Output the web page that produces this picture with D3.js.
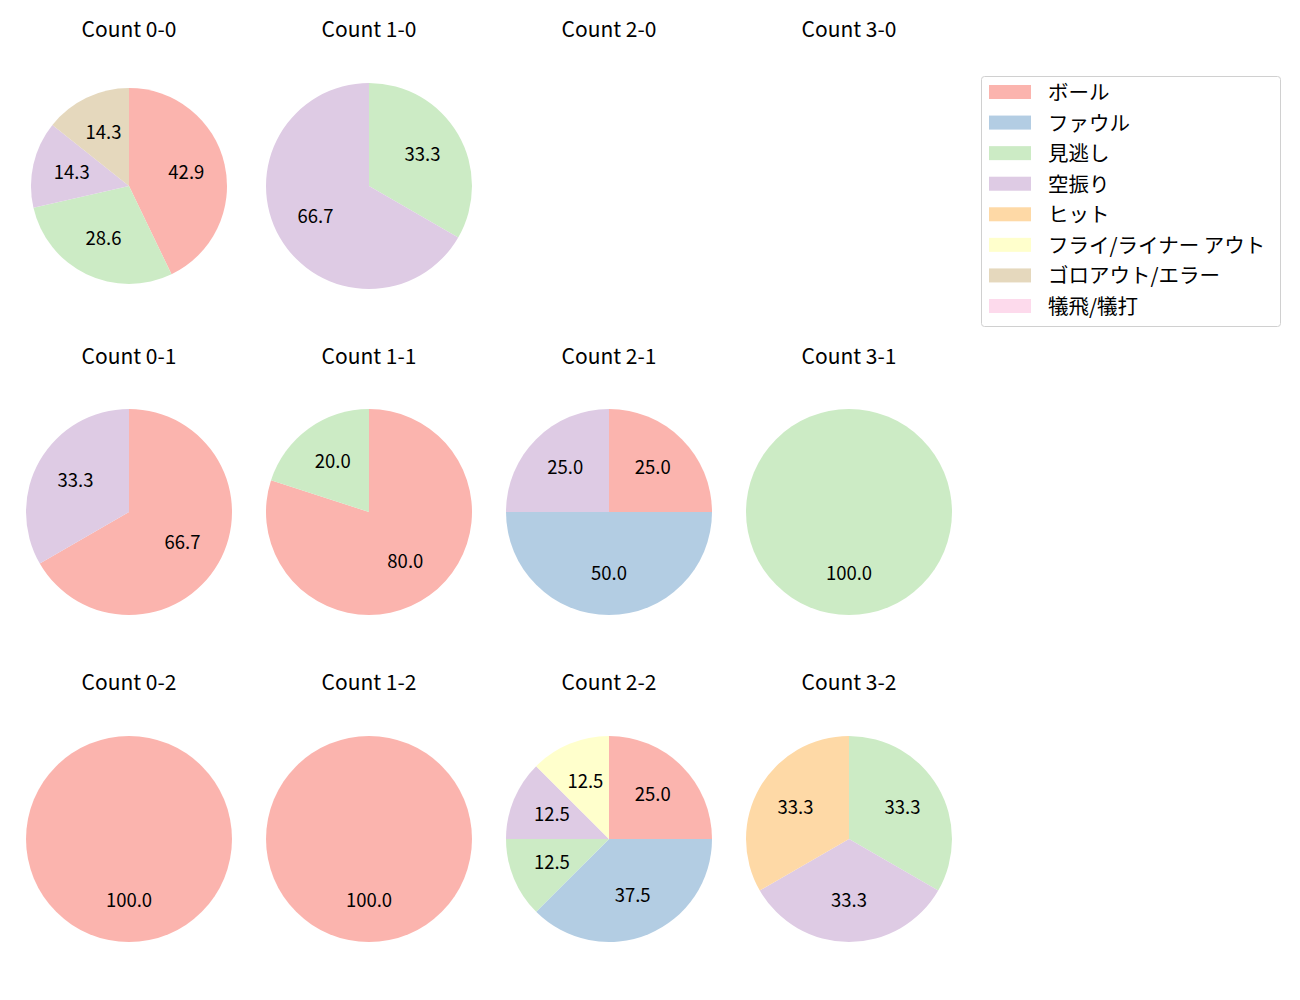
<!DOCTYPE html>
<html><head><meta charset="utf-8">
<script src="https://cdn.jsdelivr.net/npm/d3@7"></script>
<style>body{margin:0;background:#fff;} text{font-family:"Noto Sans CJK JP","Noto Sans",sans-serif;}</style>
</head><body>
<svg id="chart" width="1300" height="1000"></svg>
<script>
const categories = ["ボール","ファウル","見逃し","空振り","ヒット","フライ/ライナー アウト","ゴロアウト/エラー","犠飛/犠打"];
const colors = ["#fbb4ae","#b3cde3","#ccebc5","#decbe4","#fed9a6","#ffffcc","#e5d8bd","#fddaec"];
const panelTitles = ["Count 0-0","Count 1-0","Count 2-0","Count 3-0","Count 0-1","Count 1-1","Count 2-1","Count 3-1","Count 0-2","Count 1-2","Count 2-2","Count 3-2"];
// counts per category in the order of `categories`
const count00 = [3,0,2,1,0,0,1,0];
const count10 = [0,0,1,2,0,0,0,0];
const count20 = [0,0,0,0,0,0,0,0];
const count30 = [0,0,0,0,0,0,0,0];
const count01 = [2,0,0,1,0,0,0,0];
const count11 = [4,0,1,0,0,0,0,0];
const count21 = [1,2,0,1,0,0,0,0];
const count31 = [0,0,1,0,0,0,0,0];
const count02 = [1,0,0,0,0,0,0,0];
const count12 = [1,0,0,0,0,0,0,0];
const count22 = [2,3,1,1,0,1,0,0];
const count32 = [0,0,1,1,1,0,0,0];
const panelData = [count00,count10,count20,count30,count01,count11,count21,count31,count02,count12,count22,count32];

const svg = d3.select("#chart");
const colX = [129,369,609,849];
const rowY = [186,512,839];
const titleY = [29,356,682];
const radii = [98,103,103,103, 103,103,103,103, 103,103,103,103];

const pie = d3.pie().sort(null).value(d=>d.v).startAngle(0).endAngle(2*Math.PI);

panelData.forEach((vals,i)=>{
  const col = i%4, row = Math.floor(i/4);
  const cx = colX[col], cy = rowY[row];
  svg.append("text").attr("x",cx).attr("y",titleY[row]).attr("dy","-1.5").attr("text-anchor","middle")
    .attr("dominant-baseline","central").attr("font-size","21px").attr("fill","#000").text(panelTitles[i]);
  const total = d3.sum(vals);
  if(total===0) return;
  const items = vals.map((v,k)=>({v,k})).filter(d=>d.v>0);
  const r = radii[i];
  const arc = d3.arc().innerRadius(0).outerRadius(r);
  const g = svg.append("g").attr("transform",`translate(${cx},${cy})`);
  const arcs = pie(items);
  g.selectAll("path").data(arcs).join("path").attr("d",arc).attr("fill",d=>colors[d.data.k]);
  g.selectAll("text").data(arcs).join("text")
    .attr("x",d=>0.6*r*Math.sin((d.startAngle+d.endAngle)/2))
    .attr("y",d=>-0.6*r*Math.cos((d.startAngle+d.endAngle)/2))
    .attr("dy","-2")
    .attr("text-anchor","middle").attr("dominant-baseline","central")
    .attr("font-size","18.5px").attr("fill","#000")
    .text(d=>(100*d.data.v/total).toFixed(1));
});

// legend
const lg = svg.append("g");
lg.append("rect").attr("x",981.5).attr("y",76.5).attr("width",299).attr("height",250).attr("rx",3)
  .attr("fill","#fff").attr("stroke","#d0d0d0");
const legY = d3.scaleLinear().domain([0,7]).range([92,306]);
categories.forEach((c,k)=>{
  lg.append("rect").attr("x",989).attr("y",legY(k)-7).attr("width",42).attr("height",14).attr("fill",colors[k]);
  lg.append("text").attr("x",1048).attr("y",legY(k)).attr("dy","-1").attr("dominant-baseline","central")
    .attr("font-size","20.5px").attr("fill","#000").text(c);
});
</script>
</body></html>
